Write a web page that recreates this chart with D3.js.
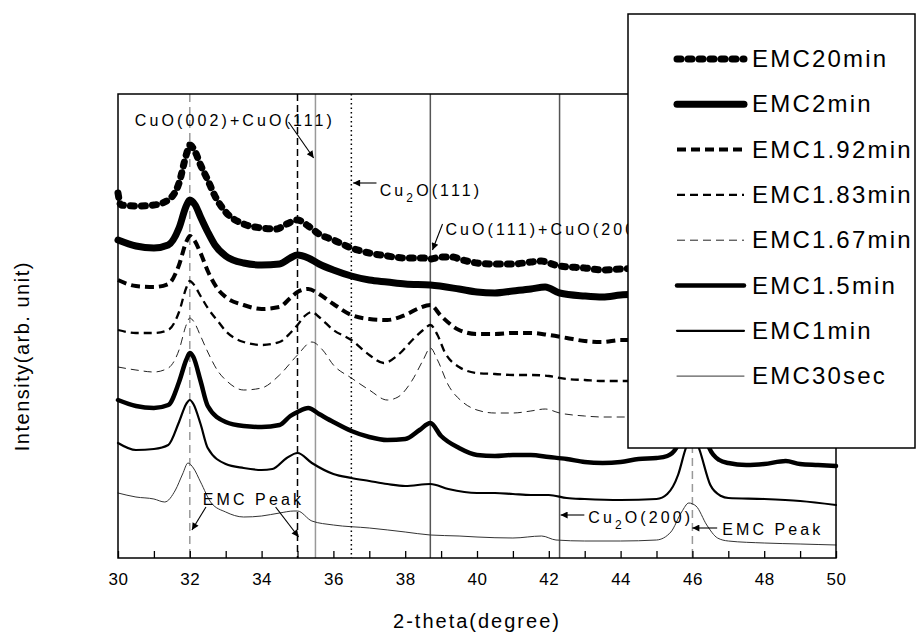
<!DOCTYPE html>
<html>
<head>
<meta charset="utf-8">
<script src="https://cdn.jsdelivr.net/npm/d3@7"></script>
<style>
body { margin: 0; background: #fff; }
svg { display: block; font-family: "Liberation Sans", Arial, sans-serif; }
</style>
</head>
<body>
<script>
// XRD patterns, [2-theta, intensity (arb. unit, already offset)]
var emc20min = [[30.0, 365], [30.08, 353], [30.5, 352], [31.0, 353], [31.4, 358], [31.7, 375], [31.9, 403], [32.0, 413], [32.15, 406], [32.3, 393], [32.5, 378], [32.7, 362], [33.0, 346], [33.5, 334], [34.0, 330], [34.4, 329], [34.7, 334], [35.0, 338], [35.3, 332], [35.6, 324], [36.0, 318], [36.5, 310], [37.0, 305], [37.5, 302], [38.0, 300], [38.5, 300], [38.7, 299], [39.0, 301], [39.3, 301], [39.6, 298], [40.0, 295], [40.5, 294], [41.0, 294], [41.5, 296], [41.8, 297], [42.0, 295], [42.3, 292], [43.0, 290], [43.5, 288], [44.0, 289], [44.5, 290], [45.5, 292], [46.0, 330], [46.5, 292], [47.5, 288], [50.0, 286]];
var emc2min = [[30.0, 318], [30.5, 312], [31.0, 310], [31.4, 313], [31.7, 330], [31.9, 352], [32.0, 358], [32.15, 353], [32.3, 341], [32.5, 326], [32.7, 313], [33.0, 302], [33.5, 295], [34.0, 293], [34.5, 294], [34.8, 300], [35.0, 303], [35.3, 300], [35.6, 294], [36.0, 288], [36.5, 282], [37.0, 278], [37.5, 276], [38.0, 274], [38.7, 273], [39.5, 269], [40.0, 266], [40.5, 265], [41.0, 267], [41.5, 269], [41.9, 271], [42.3, 265], [43.0, 262], [43.5, 261], [44.0, 263], [44.5, 264], [45.5, 266], [46.0, 320], [46.5, 266], [50.0, 262]];
var emc192min = [[30.0, 278], [30.5, 272], [31.0, 271], [31.4, 274], [31.7, 293], [31.9, 316], [32.0, 322], [32.1, 319], [32.3, 305], [32.5, 287], [32.8, 268], [33.0, 261], [33.5, 253], [34.0, 249], [34.5, 251], [34.8, 260], [35.0, 266], [35.3, 269], [35.6, 264], [36.0, 254], [36.5, 243], [37.0, 239], [37.5, 238], [38.0, 243], [38.4, 250], [38.7, 253], [39.0, 242], [39.5, 228], [40.0, 224], [40.5, 224], [41.0, 225], [41.5, 225], [42.0, 223], [42.5, 220], [43.0, 217], [43.5, 216], [44.0, 218], [44.5, 218], [45.5, 220], [46.0, 280], [46.5, 220], [50.0, 215]];
var emc183min = [[30.0, 228], [30.5, 225], [31.0, 225], [31.4, 228], [31.7, 246], [31.9, 270], [32.0, 277], [32.1, 274], [32.3, 262], [32.5, 250], [32.8, 236], [33.0, 227], [33.5, 216], [34.0, 213], [34.5, 216], [34.8, 225], [35.0, 233], [35.2, 242], [35.4, 246], [35.6, 241], [36.0, 228], [36.5, 218], [37.0, 203], [37.4, 195], [37.8, 203], [38.2, 218], [38.5, 228], [38.7, 233], [38.9, 223], [39.1, 206], [39.5, 191], [40.0, 185], [40.5, 184], [41.0, 183], [41.5, 183], [42.0, 182], [42.5, 179], [43.0, 178], [43.5, 177], [44.2, 177], [45.5, 178], [46.0, 240], [46.5, 178], [50.0, 175]];
var emc167min = [[30.0, 191], [30.5, 188], [31.0, 186], [31.4, 190], [31.7, 208], [31.9, 233], [32.0, 240], [32.1, 237], [32.3, 222], [32.5, 206], [32.8, 186], [33.0, 178], [33.5, 168], [34.0, 170], [34.5, 183], [35.0, 203], [35.4, 216], [35.7, 208], [36.0, 193], [36.5, 180], [37.0, 168], [37.5, 158], [37.8, 161], [38.2, 178], [38.5, 198], [38.7, 210], [38.9, 198], [39.2, 173], [39.6, 156], [40.0, 148], [40.5, 145], [41.0, 145], [41.5, 147], [41.9, 149], [42.3, 145], [43.0, 142], [43.5, 141], [44.2, 141], [45.5, 142], [46.0, 200], [46.5, 142], [50.0, 140]];
var emc15min = [[30.0, 158], [30.5, 152], [31.0, 150], [31.4, 153], [31.7, 176], [31.9, 198], [32.0, 205], [32.1, 201], [32.3, 177], [32.5, 152], [33.0, 136], [33.5, 132], [34.0, 131], [34.5, 133], [34.8, 142], [35.0, 146], [35.3, 150], [35.6, 144], [36.0, 136], [36.5, 127], [37.0, 121], [37.5, 118], [38.0, 119], [38.4, 128], [38.7, 135], [39.0, 122], [39.5, 110], [40.0, 103], [40.5, 102], [41.0, 103], [41.5, 103], [42.0, 101], [42.5, 99], [43.0, 96], [43.5, 95], [44.0, 96], [44.5, 99], [45.0, 100], [45.3, 102], [45.55, 110], [45.8, 150], [46.0, 185], [46.2, 150], [46.47, 110], [46.75, 98], [47.0, 95], [47.5, 93], [48.0, 94], [48.6, 97], [49.0, 94], [49.5, 93], [50.0, 92]];
var emc1min = [[30.0, 115], [30.5, 108], [31.0, 109], [31.4, 113], [31.7, 136], [31.9, 154], [32.0, 158], [32.1, 154], [32.3, 134], [32.5, 110], [33.0, 94], [33.5, 90], [34.0, 88], [34.3, 89], [34.7, 100], [35.0, 105], [35.4, 95], [36.0, 84], [36.5, 80], [37.0, 77], [37.5, 74], [38.0, 72], [38.7, 74], [39.2, 69], [40.0, 65], [40.5, 65], [41.0, 64], [41.5, 63], [42.0, 63], [42.5, 60], [43.0, 59], [44.0, 58], [45.0, 59], [45.3, 64], [45.6, 83], [45.8, 108], [46.0, 126], [46.2, 108], [46.5, 73], [46.8, 62], [47.0, 60], [48.0, 59], [49.0, 57], [50.0, 53]];
var emc30sec = [[30.0, 65], [30.5, 61], [31.0, 59], [31.3, 56], [31.6, 68], [31.8, 84], [31.95, 95], [32.1, 90], [32.3, 76], [32.6, 55], [33.0, 46], [33.5, 41], [34.0, 42], [34.5, 45], [34.9, 47], [35.0, 47], [35.4, 37], [36.0, 33], [37.0, 30], [38.0, 26], [38.7, 23], [39.5, 22], [40.0, 21], [41.0, 20], [41.8, 22], [42.2, 18], [43.0, 17], [44.0, 17], [45.0, 18], [45.4, 26], [45.7, 46], [45.9, 55], [46.1, 52], [46.4, 33], [46.7, 20], [47.0, 17], [48.0, 15], [49.0, 14], [50.0, 13]];

var seriesNames = ["EMC20min", "EMC2min", "EMC1.92min", "EMC1.83min", "EMC1.67min", "EMC1.5min", "EMC1min", "EMC30sec"];
var seriesData = [emc20min, emc2min, emc192min, emc183min, emc167min, emc15min, emc1min, emc30sec];
var xTicks = [30, 32, 34, 36, 38, 40, 42, 44, 46, 48, 50];
var minorTicks = d3.range(30, 51, 1);

// reference peak positions (degree)
var refLines = [32, 35, 35.5, 36.5, 38.7, 42.3, 46];

// line look for each series, same order as seriesNames
var seriesStyle = [
  {w: 7, dash: "4,7", cap: "round", color: "#000"},
  {w: 7, dash: null, cap: "round", color: "#000"},
  {w: 4, dash: "9,5", cap: "butt", color: "#000"},
  {w: 2.3, dash: "8,5", cap: "butt", color: "#000"},
  {w: 1, dash: "8,5", cap: "butt", color: "#222"},
  {w: 4.5, dash: null, cap: "round", color: "#000"},
  {w: 2.2, dash: null, cap: "round", color: "#000"},
  {w: 1, dash: null, cap: "round", color: "#333"}
];
var refStyle = [
  {color: "#999", dash: "8,5"},
  {color: "#000", dash: "7,4"},
  {color: "#999", dash: null},
  {color: "#000", dash: "1.5,3"},
  {color: "#555", dash: null},
  {color: "#555", dash: null},
  {color: "#999", dash: "8,5"}
];

var W = 918, H = 637;
var margin = {top: 94, right: 82, bottom: 79, left: 118};
var w = W - margin.left - margin.right;
var h = H - margin.top - margin.bottom;

var x = d3.scaleLinear().domain([30, 50]).range([margin.left, margin.left + w]);
var y = d3.scaleLinear().domain([0, 464]).range([margin.top + h, margin.top]);

var svg = d3.select("body")
  .append("svg")
  .attr("width", W)
  .attr("height", H);

var defs = svg.append("defs");
defs.append("marker")
  .attr("id", "arrow")
  .attr("markerUnits", "userSpaceOnUse")
  .attr("viewBox", "0 0 10 10")
  .attr("refX", 10)
  .attr("refY", 5)
  .attr("markerWidth", 10)
  .attr("markerHeight", 7)
  .attr("orient", "auto")
  .append("path")
  .attr("d", "M0,0 L10,5 L0,10 z")
  .attr("fill", "#000");

// reference lines
svg.selectAll(".ref")
  .data(refLines)
  .enter()
  .append("line")
  .attr("class", "ref")
  .attr("x1", function(d) { return x(d); })
  .attr("x2", function(d) { return x(d); })
  .attr("y1", y(464))
  .attr("y2", y(0))
  .attr("stroke", function(d, i) { return refStyle[i].color; })
  .attr("stroke-width", 1.5)
  .attr("stroke-dasharray", function(d, i) { return refStyle[i].dash; });

// curves
var line = d3.line()
  .x(function(d) { return x(d[0]); })
  .y(function(d) { return y(d[1]); })
  .curve(d3.curveMonotoneX);

svg.selectAll(".curve")
  .data(seriesData)
  .enter()
  .append("path")
  .attr("class", "curve")
  .attr("d", line)
  .attr("fill", "none")
  .attr("stroke", function(d, i) { return seriesStyle[i].color; })
  .attr("stroke-width", function(d, i) { return seriesStyle[i].w; })
  .attr("stroke-dasharray", function(d, i) { return seriesStyle[i].dash; })
  .attr("stroke-linecap", function(d, i) { return seriesStyle[i].cap; })
  .attr("stroke-linejoin", "round");

// frame
svg.append("rect")
  .attr("x", x(30))
  .attr("y", y(464))
  .attr("width", x(50) - x(30))
  .attr("height", y(0) - y(464))
  .attr("fill", "none")
  .attr("stroke", "#000")
  .attr("stroke-width", 1.5);

// x axis: minor ticks every degree, labels every 2
var xAxisMinor = d3.axisBottom(x)
  .tickValues(minorTicks)
  .tickSize(-7)
  .tickFormat("");
svg.append("g")
  .attr("transform", "translate(0," + y(0) + ")")
  .call(xAxisMinor)
  .call(function(g) { g.select(".domain").remove(); })
  .selectAll("line")
  .attr("stroke-width", 1.3);

var xAxis = d3.axisBottom(x)
  .tickValues(xTicks)
  .tickSize(0)
  .tickPadding(15)
  .tickFormat(function(d) { return d; });
var gx = svg.append("g")
  .attr("transform", "translate(0," + y(0) + ")")
  .call(xAxis);
gx.select(".domain").remove();
gx.selectAll("text")
  .attr("font-size", 17)
  .attr("font-family", "Liberation Sans, Arial, sans-serif")
  .attr("letter-spacing", "0.5px")
  .attr("fill", "#000");

// axis titles
svg.append("text")
  .attr("x", x(40))
  .attr("y", 628)
  .attr("text-anchor", "middle")
  .attr("font-size", 20)
  .attr("letter-spacing", "2px")
  .text("2-theta(degree)");

svg.append("text")
  .attr("transform", "translate(29," + (margin.top + h * 0.565) + ") rotate(-90)")
  .attr("text-anchor", "middle")
  .attr("font-size", 20)
  .attr("letter-spacing", "1.5px")
  .text("Intensity(arb. unit)");

// annotations (data units)
var arrows = [
  [34.75, 436, 35.45, 400],
  [37.2, 375, 36.55, 375],
  [39.04, 334, 38.76, 308],
  [32.45, 51, 32.06, 28],
  [34.39, 51, 35.03, 21],
  [42.99, 43, 42.33, 43],
  [46.69, 30, 46.0, 30]
];
var notes = [
  {x: 30.47, y: 432, parts: [["CuO(002)+CuO(111)", 0]]},
  {x: 37.29, y: 362, parts: [["Cu", 0], ["2", 1], ["O(111)", 0]]},
  {x: 39.12, y: 323, parts: [["CuO(111)+CuO(200)", 0]]},
  {x: 32.36, y: 53, parts: [["EMC Peak", 0]]},
  {x: 43.10, y: 35, parts: [["Cu", 0], ["2", 1], ["O(200)", 0]]},
  {x: 46.83, y: 23, parts: [["EMC Peak", 0]]}
];

svg.selectAll(".arrow")
  .data(arrows)
  .enter()
  .append("line")
  .attr("class", "arrow")
  .attr("x1", function(d) { return x(d[0]); })
  .attr("y1", function(d) { return y(d[1]); })
  .attr("x2", function(d) { return x(d[2]); })
  .attr("y2", function(d) { return y(d[3]); })
  .attr("stroke", "#000")
  .attr("stroke-width", 1.1)
  .attr("marker-end", "url(#arrow)");

var noteText = svg.selectAll(".note")
  .data(notes)
  .enter()
  .append("text")
  .attr("class", "note")
  .attr("x", function(d) { return x(d.x); })
  .attr("y", function(d) { return y(d.y); })
  .attr("font-size", 16)
  .attr("letter-spacing", "3.1px");

noteText.each(function(d) {
  var t = d3.select(this);
  var wasSub = false;
  d.parts.forEach(function(p) {
    var span = t.append("tspan").text(p[0]);
    if (p[1]) {
      span.attr("font-size", 12).attr("dy", 6);
      wasSub = true;
    } else if (wasSub) {
      span.attr("dy", -6);
      wasSub = false;
    }
  });
});

// legend
var lg = svg.append("g");
lg.append("rect")
  .attr("x", 628)
  .attr("y", 14)
  .attr("width", 287)
  .attr("height", 434)
  .attr("fill", "#fff")
  .attr("stroke", "#000")
  .attr("stroke-width", 1.5);

var row = lg.selectAll(".row")
  .data(seriesNames)
  .enter()
  .append("g")
  .attr("class", "row")
  .attr("transform", function(d, i) { return "translate(0," + (59 + i * 45.3) + ")"; });

row.append("line")
  .attr("x1", 677)
  .attr("x2", 744)
  .attr("y1", 0)
  .attr("y2", 0)
  .attr("stroke", function(d, i) { return seriesStyle[i].color; })
  .attr("stroke-width", function(d, i) { return seriesStyle[i].w; })
  .attr("stroke-dasharray", function(d, i) { return seriesStyle[i].dash; })
  .attr("stroke-linecap", function(d, i) { return seriesStyle[i].cap; });

row.append("text")
  .attr("x", 752)
  .attr("y", 8)
  .attr("font-size", 24)
  .attr("letter-spacing", "2.2px")
  .text(function(d) { return d; });
</script>
</body>
</html>
